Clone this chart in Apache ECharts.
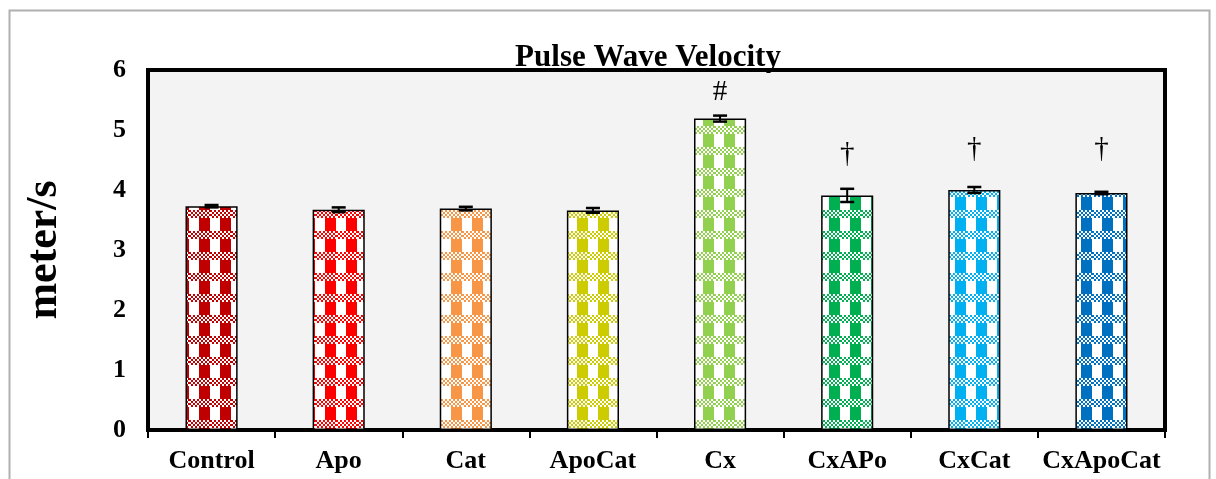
<!DOCTYPE html>
<html>
<head>
<meta charset="utf-8">
<script src="https://cdn.jsdelivr.net/npm/echarts@6/dist/echarts.min.js"></script>
<style>
html,body{margin:0;padding:0;background:#fff;}
#chart{width:1216px;height:479px;}
</style>
</head>
<body>
<div id="chart"></div>
<script>
const categories = ['Control','Apo','Cat','ApoCat','Cx','CxAPo','CxCat','CxApoCat'];
const values = [3.73, 3.67, 3.69, 3.66, 5.19, 3.91, 4.00, 3.95];
const errors = [0.02, 0.04, 0.03, 0.04, 0.05, 0.11, 0.05, 0.02];
const barColors = ['#C00000','#FF0000','#F79646','#CCCC00','#92D050','#00B050','#00B0F0','#0070C0'];
const marks = ['', '', '', '', '#', '\u2020', '\u2020', '\u2020'];
const markY = [null, null, null, null, 5.63, 4.60, 4.68, 4.68];
const yTicks = [0,1,2,3,4,5,6];

function makePattern(color){
  const s = 21;
  const c = document.createElement('canvas');
  c.width = s; c.height = s;
  const g = c.getContext('2d');
  g.fillStyle = '#ffffff';
  g.fillRect(0,0,s,s);
  g.fillStyle = color;
  g.fillRect(10,0,11,s);
  g.fillStyle = '#ffffff';
  g.fillRect(0,0,s,8);
  g.fillStyle = color;
  for(let y=0;y<8;y+=2){
    for(let x=0;x<s;x+=2){
      if(((x+y)/2)%2===0) g.fillRect(x,y,2,2);
    }
  }
  return {image:c, repeat:'repeat'};
}

const chart = echarts.init(document.getElementById('chart'), null, {renderer:'canvas'});
const font = 'Liberation Serif, Times New Roman, serif';

chart.setOption({
  backgroundColor:'#ffffff',
  animation:false,
  graphic:[{
    type:'rect', shape:{x:9.5,y:10.5,width:1200,height:520},
    style:{fill:'none',stroke:'#b0b0b0',lineWidth:2}, z:-10, silent:true
  }],
  title:{
    text:'Pulse Wave Velocity', left:643, top:37, textAlign:'center',
    textStyle:{fontFamily:font,fontWeight:'bold',fontSize:31,color:'#000'}
  },
  grid:{left:148,right:51,top:70,bottom:49,show:true,backgroundColor:'#f3f3f3',borderColor:'#000',borderWidth:4},
  xAxis:{
    type:'category', data:categories,
    axisLine:{show:true,lineStyle:{color:'#000',width:3}},
    axisTick:{show:true,interval:0,length:8,lineStyle:{color:'#000',width:2}},
    axisLabel:{interval:0,hideOverlap:false,color:'#000',fontFamily:font,fontWeight:'bold',fontSize:26,margin:18}
  },
  yAxis:{
    type:'value', min:yTicks[0], max:yTicks[yTicks.length-1], interval:1,
    name:'meter/s', nameLocation:'middle', nameGap:81,
    nameTextStyle:{color:'#000',fontFamily:font,fontWeight:'bold',fontSize:44},
    axisLine:{show:true,lineStyle:{color:'#000',width:3}},
    axisTick:{show:false},
    splitLine:{show:false},
    axisLabel:{color:'#000',fontFamily:font,fontWeight:'bold',fontSize:26,margin:22}
  },
  series:[
    {
      type:'bar', barWidth:'41%',
      data:values.map((v,i)=>({value:v,itemStyle:{color:makePattern(barColors[i]),borderColor:'#000',borderWidth:1.5}})),
      z:2
    },
    {
      type:'custom', z:5,
      data:values.map((v,i)=>[i,v,errors[i]]),
      renderItem:function(params,api){
        const x = api.value(0), v = api.value(1), e = api.value(2);
        const top = api.coord([x,v+e]);
        const bot = api.coord([x,v-e]);
        const hw = 7;
        return {type:'group',children:[
          {type:'line',shape:{x1:top[0],y1:top[1],x2:bot[0],y2:bot[1]},style:{stroke:'#000',lineWidth:2}},
          {type:'line',shape:{x1:top[0]-hw,y1:top[1],x2:top[0]+hw,y2:top[1]},style:{stroke:'#000',lineWidth:2.5}},
          {type:'line',shape:{x1:bot[0]-hw,y1:bot[1],x2:bot[0]+hw,y2:bot[1]},style:{stroke:'#000',lineWidth:2.5}}
        ]};
      }
    },
    {
      type:'custom', z:6,
      data:marks.map((m,i)=>[i, markY[i]===null?0:markY[i], m]),
      renderItem:function(params,api){
        const i = params.dataIndex;
        if(!marks[i]) return null;
        const p = api.coord([api.value(0), markY[i]]);
        return {type:'text',x:p[0],y:p[1],style:{text:marks[i],fill:'#000',font:'29px '+font,align:'center',verticalAlign:'middle'}};
      }
    }
  ]
});
</script>
</body>
</html>
